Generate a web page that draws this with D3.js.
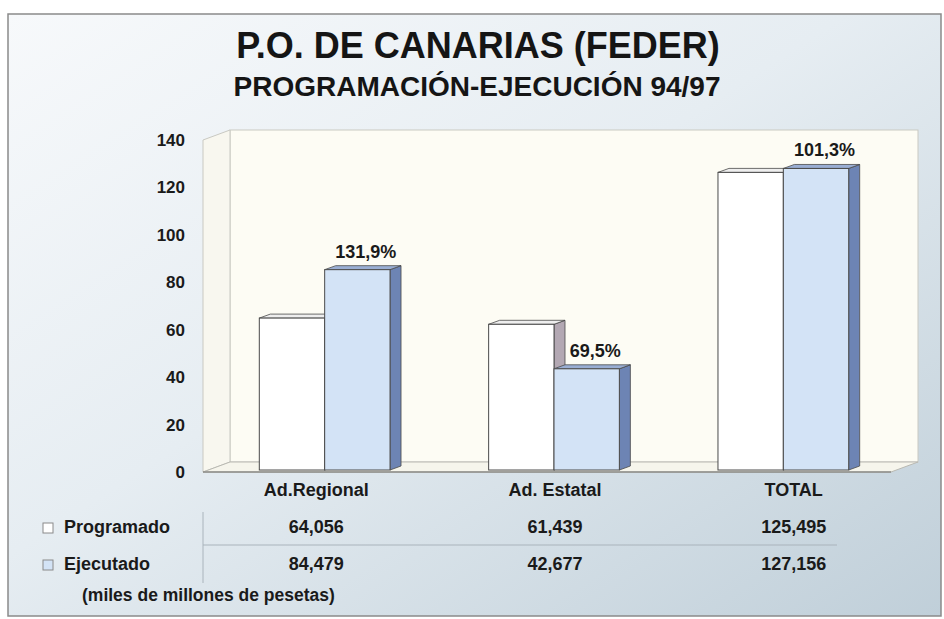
<!DOCTYPE html>
<html>
<head>
<meta charset="utf-8">
<script src="https://cdn.jsdelivr.net/npm/d3@7"></script>
<style>
  html, body { margin: 0; padding: 0; background: #fff; }
  svg { display: block; font-family: "Liberation Sans", Arial, sans-serif; }
</style>
</head>
<body>
<svg id="chart" width="944" height="619"></svg>
<script>
const categories = ["Ad.Regional", "Ad. Estatal", "TOTAL"];
const series = ["Programado", "Ejecutado"];
const programado = [64.056, 61.439, 125.495];
const ejecutado = [84.479, 42.677, 127.156];
const yTicks = [0, 20, 40, 60, 80, 100, 120, 140];

const title = "P.O. DE CANARIAS (FEDER)";
const subtitle = "PROGRAMACIÓN-EJECUCIÓN 94/97";
const note = "(miles de millones de pesetas)";

const width = 944, height = 619;
const svg = d3.select("#chart");

const es = d3.formatLocale({ decimal: ",", thousands: ".", grouping: [3], currency: ["", ""] });
const fmtVal = es.format(".3f");
const fmtPct = es.format(".1f");

// background
const defs = svg.append("defs");
const bg = defs.append("linearGradient").attr("id", "bg")
  .attr("x1", "0%").attr("y1", "0%").attr("x2", "100%").attr("y2", "100%");
bg.append("stop").attr("offset", "0%").attr("stop-color", "#f7f9fb");
bg.append("stop").attr("offset", "45%").attr("stop-color", "#e6edf2");
bg.append("stop").attr("offset", "100%").attr("stop-color", "#c0cfd9");

svg.append("rect")
  .attr("x", 8).attr("y", 14).attr("width", 933).attr("height", 602)
  .attr("fill", "url(#bg)").attr("stroke", "#8a8a8a").attr("stroke-width", 1.5);

// titles
svg.append("text")
  .attr("x", 478).attr("y", 58)
  .attr("text-anchor", "middle")
  .attr("font-size", 36).attr("font-weight", "bold").attr("fill", "#151515")
  .text(title);
svg.append("text")
  .attr("x", 477).attr("y", 96)
  .attr("text-anchor", "middle")
  .attr("font-size", 28).attr("font-weight", "bold").attr("fill", "#151515")
  .text(subtitle);

// 3d frame
const front = { left: 203, right: 891, base: 472 };
const depth = { dx: 27, dy: 10 };
const bar3d = { dx: 11, dy: 4, shiftX: 7, shiftY: 2 };

const y = d3.scaleLinear().domain([0, 140]).range([front.base, 140]);

const x0 = d3.scaleBand()
  .domain(categories)
  .range([front.left + bar3d.shiftX, front.right + bar3d.shiftX])
  .paddingInner(0.43)
  .paddingOuter(0.215);
const x1 = d3.scaleBand().domain(series).range([0, x0.bandwidth()]);

const walls = svg.append("g");
const topY = y(140);
// back wall
walls.append("rect")
  .attr("x", front.left + depth.dx).attr("y", topY - depth.dy)
  .attr("width", front.right - front.left).attr("height", front.base - topY)
  .attr("fill", "#fdfcf4").attr("stroke", "#c9c9c2");
// left wall
walls.append("polygon")
  .attr("points", [
    [front.left, topY], [front.left + depth.dx, topY - depth.dy],
    [front.left + depth.dx, front.base - depth.dy], [front.left, front.base]
  ].join(" "))
  .attr("fill", "#f8f7ef").attr("stroke", "#c9c9c2");
// floor
walls.append("polygon")
  .attr("points", [
    [front.left, front.base], [front.left + depth.dx, front.base - depth.dy],
    [front.right + depth.dx, front.base - depth.dy], [front.right, front.base]
  ].join(" "))
  .attr("fill", "#f6f5ec").attr("stroke", "#b9b9b2");
walls.append("line")
  .attr("x1", front.left).attr("x2", front.right)
  .attr("y1", front.base).attr("y2", front.base)
  .attr("stroke", "#8d8d88").attr("stroke-width", 1.5);

// y tick labels
svg.append("g").selectAll("text")
  .data(yTicks)
  .join("text")
  .attr("x", 185).attr("y", d => y(d) + 6)
  .attr("text-anchor", "end")
  .attr("font-size", 17).attr("font-weight", "bold").attr("fill", "#1a1a1a")
  .text(d => d);

// bars
const colors = {
  Programado: { front: "#ffffff", top: "#eeeeee", side: "#b3a8b3" },
  Ejecutado: { front: "#d3e3f6", top: "#9aaed3", side: "#6d84b4" }
};

const rows = categories.map((c, i) => ({
  cat: c,
  values: [
    { key: "Programado", value: programado[i] },
    { key: "Ejecutado", value: ejecutado[i] }
  ]
}));

const barG = svg.append("g");
rows.forEach(r => {
  r.values.forEach(v => {
    const bx = x0(r.cat) + x1(v.key);
    const bw = x1.bandwidth();
    const by = y(v.value) - bar3d.shiftY;
    const base = front.base - bar3d.shiftY;
    const c = colors[v.key];
    const g = barG.append("g");
    g.append("polygon")
      .attr("points", [[bx + bw, by], [bx + bw + bar3d.dx, by - bar3d.dy],
        [bx + bw + bar3d.dx, base - bar3d.dy], [bx + bw, base]].join(" "))
      .attr("fill", c.side).attr("stroke", "#4a4a4a").attr("stroke-width", 0.8);
    g.append("polygon")
      .attr("points", [[bx, by], [bx + bar3d.dx, by - bar3d.dy],
        [bx + bw + bar3d.dx, by - bar3d.dy], [bx + bw, by]].join(" "))
      .attr("fill", c.top).attr("stroke", "#4a4a4a").attr("stroke-width", 0.8);
    g.append("rect")
      .attr("x", bx).attr("y", by).attr("width", bw).attr("height", base - by)
      .attr("fill", c.front).attr("stroke", "#4a4a4a").attr("stroke-width", 1);
  });
});

// percentage labels
svg.append("g").selectAll("text")
  .data(rows)
  .join("text")
  .attr("x", d => x0(d.cat) + x1("Ejecutado") + x1.bandwidth() / 2 + bar3d.dx / 2 + 3)
  .attr("y", d => y(d.values[1].value) - bar3d.shiftY - 12)
  .attr("text-anchor", "middle")
  .attr("font-size", 18).attr("font-weight", "bold").attr("fill", "#1a1a1a")
  .text(d => fmtPct(d.values[1].value / d.values[0].value * 100) + "%");

// data table
const tx = d3.scaleBand().domain(categories).range([197, 913]);
const rowY = d3.scalePoint().domain(["head", ...series]).range([496, 570]);
const table = svg.append("g")
  .attr("font-size", 18).attr("font-weight", "bold").attr("fill", "#1a1a1a");

table.selectAll(".head")
  .data(categories)
  .join("text")
  .attr("class", "head")
  .attr("x", d => tx(d) + tx.bandwidth() / 2)
  .attr("y", rowY("head"))
  .attr("text-anchor", "middle")
  .text(d => d);

const seriesVals = { Programado: programado, Ejecutado: ejecutado };
series.forEach(s => {
  table.append("rect")
    .attr("x", 43).attr("y", rowY(s) - 10).attr("width", 10).attr("height", 10)
    .attr("fill", colors[s].front).attr("stroke", "#8a8a8a").attr("stroke-width", 1);
  table.append("text")
    .attr("x", 64).attr("y", rowY(s))
    .text(s);
  table.selectAll(".v-" + s)
    .data(seriesVals[s])
    .join("text")
    .attr("class", "v-" + s)
    .attr("x", (d, i) => tx(categories[i]) + tx.bandwidth() / 2)
    .attr("y", rowY(s))
    .attr("text-anchor", "middle")
    .text(d => fmtVal(d));
});

// table rules
svg.append("line")
  .attr("x1", 203).attr("x2", 203).attr("y1", 512).attr("y2", 583)
  .attr("stroke", "#aab4bc").attr("stroke-width", 1);
svg.append("line")
  .attr("x1", 203).attr("x2", 837).attr("y1", 545).attr("y2", 545)
  .attr("stroke", "#aab4bc").attr("stroke-width", 1.2);

svg.append("text")
  .attr("x", 82).attr("y", 601)
  .attr("font-size", 17.5).attr("font-weight", "bold").attr("fill", "#1a1a1a")
  .text(note);
</script>
</body>
</html>
